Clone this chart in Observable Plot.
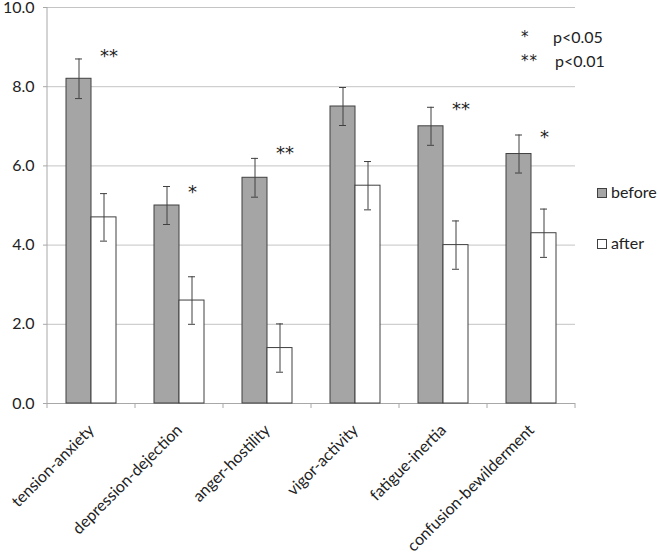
<!DOCTYPE html>
<html><head><meta charset="utf-8">
<script src="https://cdn.jsdelivr.net/npm/d3@7"></script>
<script src="https://cdn.jsdelivr.net/npm/@observablehq/plot@0.6"></script>
<style>
body{margin:0;background:#fff;}
#wrap{position:relative;width:660px;height:553px;font-family:Lato,sans-serif;color:#222;}
#wrap svg{position:absolute;left:0;top:0;}
.lg{position:absolute;font-size:16px;line-height:16px;white-space:nowrap;}
.st{position:absolute;font-family:"DejaVu Sans",sans-serif;font-size:15px;line-height:16px;white-space:nowrap;color:#222;}
.sw{position:absolute;width:8px;height:8px;border:1px solid #404040;}
</style></head><body><div id="wrap"></div>
<script>
const categories = ["tension-anxiety","depression-dejection","anger-hostility","vigor-activity","fatigue-inertia","confusion-bewilderment"];
const series = ["before","after"];
const before = [8.2, 5.0, 5.7, 7.5, 7.0, 6.3];
const beforeErr = [0.5, 0.48, 0.49, 0.48, 0.48, 0.48];
const after = [4.7, 2.6, 1.4, 5.5, 4.0, 4.3];
const afterErr = [0.6, 0.6, 0.61, 0.61, 0.61, 0.61];
const stars = ["**", "*", "**", "", "**", "*"];
const starY = [8.85, 5.4, 6.4, null, 7.5, 6.8];
const yTicks = [0, 2, 4, 6, 8, 10];
const sigMarks = ["*", "**"];
const sigLabels = ["p<0.05", "p<0.01"];

const rows = [];
categories.forEach((c, i) => {
  rows.push({category: c, series: "before", value: before[i], lo: before[i] - beforeErr[i], hi: before[i] + beforeErr[i]});
  rows.push({category: c, series: "after", value: after[i], lo: after[i] - afterErr[i], hi: after[i] + afterErr[i]});
});
const starRows = categories.map((c, i) => ({category: c, series: "after", y: starY[i], text: stars[i]})).filter(d => d.text);

const chart = Plot.plot({
  width: 660, height: 553,
  marginLeft: 46, marginRight: 85, marginTop: 7, marginBottom: 150,
  style: {fontFamily: "Lato, sans-serif", fontSize: "16px", color: "#222", background: "transparent"},
  fx: {domain: categories, padding: 0, label: null},
  x: {domain: series, paddingInner: 0, paddingOuter: 0.72, axis: null, label: null},
  y: {domain: [0, 10], label: null},
  color: {domain: series, range: ["#a5a5a5", "#ffffff"]},
  marks: [
    Plot.gridY(yTicks, {stroke: "#c4c4c4", strokeOpacity: 1}),
    Plot.ruleY([0], {stroke: "#a8a8a8"}),
    Plot.barY(rows, {fx: "category", x: "series", y: "value", fill: "series", stroke: "#404040", strokeWidth: 1}),
    Plot.ruleX(rows, {fx: "category", x: "series", y1: "lo", y2: "hi", stroke: "#404040"}),
    Plot.tickY(rows, {fx: "category", x: "series", y: "lo", insetLeft: 9, insetRight: 9, stroke: "#404040"}),
    Plot.tickY(rows, {fx: "category", x: "series", y: "hi", insetLeft: 9, insetRight: 9, stroke: "#404040"}),
    Plot.text(starRows, {fx: "category", x: "series", y: "y", text: "text", textAnchor: "start", dx: -4, dy: 3, fontSize: 18, fontFamily: "DejaVu Sans, sans-serif", fill: "#222", lineAnchor: "middle", letterSpacing: 3}),
    Plot.axisY({ticks: yTicks, tickFormat: d3.format(".1f"), tickSize: 4, tickPadding: 9, stroke: "#a8a8a8", fontSize: 16}),
    Plot.axisFx({anchor: "bottom", tickSize: 0, tickRotate: -45, tickPadding: 24, label: null, fontSize: 16})
  ]
});

const wrap = document.getElementById("wrap");
wrap.appendChild(chart);

// category boundary ticks and y-axis line, placed through the plot's own scales
const fx = chart.scale("fx");
const y = chart.scale("y");
const svg = d3.select(chart);
const bounds = categories.map(c => fx.apply(c)).concat([fx.apply(categories[categories.length - 1]) + fx.bandwidth]);
const y0 = y.apply(0), y10 = y.apply(10);
const g = svg.append("g").attr("stroke", "#a8a8a8");
g.selectAll("line.b").data(bounds).join("line")
  .attr("x1", d => d).attr("x2", d => d).attr("y1", y0).attr("y2", y0 + 5);
g.append("line").attr("x1", bounds[0]).attr("x2", bounds[0]).attr("y1", y10).attr("y2", y0);

// significance note
sigMarks.forEach((m, i) => {
  const a = document.createElement("div"); a.className = "st"; a.textContent = m;
  a.style.left = "521px"; a.style.top = (29 + i * 24) + "px"; a.style.letterSpacing = "1px";
  wrap.appendChild(a);
  const b = document.createElement("div"); b.className = "lg"; b.textContent = sigLabels[i];
  b.style.left = (553 + i * 2) + "px"; b.style.top = (29 + i * 24) + "px";
  wrap.appendChild(b);
});
// legend
const colors = ["#a5a5a5", "#ffffff"];
series.forEach((s, i) => {
  const sw = document.createElement("div"); sw.className = "sw";
  sw.style.background = colors[i]; sw.style.left = "597px"; sw.style.top = (188 + i * 51) + "px";
  wrap.appendChild(sw);
  const t = document.createElement("div"); t.className = "lg"; t.textContent = s;
  t.style.left = "611px"; t.style.top = (184 + i * 51) + "px";
  wrap.appendChild(t);
});
</script></body></html>
